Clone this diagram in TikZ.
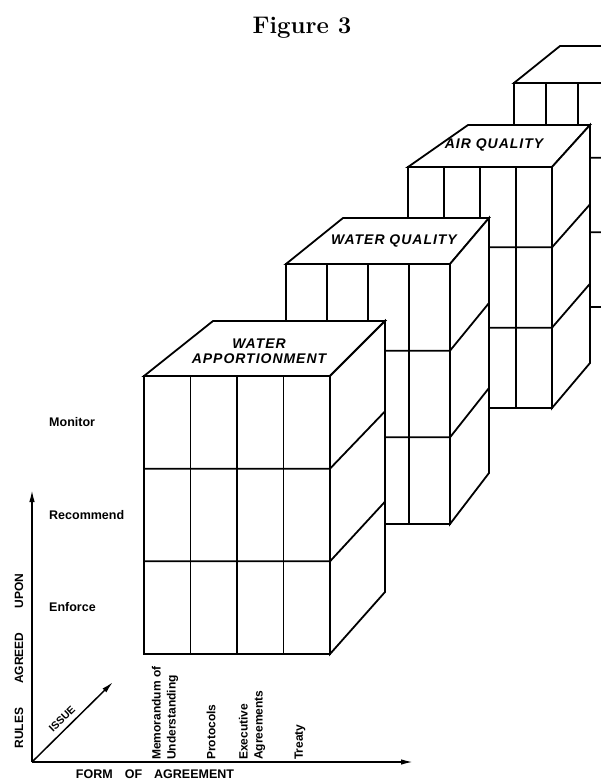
\documentclass[tikz,border=0pt]{standalone}
\usepackage{fontspec}
\setsansfont{Liberation Sans}
\usetikzlibrary{arrows.meta}

% one block: front corner (x,y), width, height, back corner (x,y), back width, back height
\newcommand{\agreecube}[8]{%
  \filldraw[cubeline, fill=white] (#1,#2) -- (#5,#6) -- (#5+#7,#6) -- (#1+#3,#2) -- cycle;
  \filldraw[cubeline, fill=white] (#1+#3,#2) -- (#5+#7,#6) -- (#5+#7,#6+#8) -- (#1+#3,#2+#4) -- cycle;
  \filldraw[cubeline, fill=white] (#1,#2) rectangle (#1+#3,#2+#4);
  \foreach \k in {1,2,3}
    \draw[cubeline] (#1+\k*#3/4,#2) -- (#1+\k*#3/4,#2+#4);
  \foreach \k in {1,2}
    \draw[cubeline] (#1,#2+\k*#4/3) -- (#1+#3,#2+\k*#4/3) -- (#5+#7,#6+\k*#8/3);
}

\begin{document}
\begin{tikzpicture}[x=1pt, y=-1pt,
  cubeline/.style={line width=1.8pt},
  axisline/.style={line width=1.5pt, -{Latex[length=12pt, width=5.5pt]}},
  rowlabel/.style={font=\sffamily\bfseries\fontsize{12.5}{15}\selectfont, anchor=west, inner sep=0pt},
  formlabel/.style={font=\sffamily\bfseries\fontsize{12}{15}\selectfont, rotate=90, anchor=west, align=left, inner sep=0pt},
  toplabel/.style={font=\sffamily\bfseries\itshape\fontsize{14}{15}\selectfont\addfontfeature{LetterSpace=7}, align=center, inner sep=0pt}]
  \useasboundingbox (0,0) rectangle (601,783);

  % Title
  \node[font=\bfseries\fontsize{24}{28}\selectfont] (title) at (302,28) {Figure 3};

  % Blocks, back to front
  \begin{scope}
    \clip (0,0) rectangle (601,783);
    \agreecube{514}{83}{128}{224}{560}{46}{110}{218}
    \agreecube{408}{167}{144}{241}{468}{125}{122}{238}
    \agreecube{286}{264}{164}{260}{343}{218}{146}{255}
    \agreecube{144}{376}{186}{278}{213}{321}{172}{271}
  \end{scope}

  % Issue names on the tops
  \node[toplabel] (airq) at (494,145) {AIR QUALITY};
  \node[toplabel] (waterq) at (394,241) {WATER QUALITY};
  \node[toplabel] (waterapp) at (259,351) {WATER\\APPORTIONMENT};

  % Rules agreed upon
  \node[rowlabel] (monitor) at (49,422) {Monitor};
  \node[rowlabel] (recommend) at (49,515) {Recommend};
  \node[rowlabel] (enforce) at (49,607) {Enforce};

  % Forms of agreement
  \node[formlabel] (mou) at (165,760) {Memorandum of\\Understanding};
  \node[formlabel] (protocols) at (211,760) {Protocols};
  \node[formlabel] (execagr) at (252,760) {Executive\\Agreements};
  \node[formlabel] (treaty) at (300,760) {Treaty};

  % Axes
  \coordinate (origin) at (32,762);
  \coordinate (rulesend) at (32,490);
  \coordinate (formend) at (413,762);
  \coordinate (issueend) at (113,682);
  \draw[axisline] (origin) -- (rulesend);
  \draw[axisline] (origin) -- (formend);
  \draw[axisline] (origin) -- (issueend);
  \node[rotate=90, font=\sffamily\bfseries\fontsize{12}{14}\selectfont] (rules) at (19,661) {RULES\hspace{24pt}AGREED\hspace{24pt}UPON};
  \node[font=\sffamily\bfseries\fontsize{12.5}{14}\selectfont] (form) at (155,774) {FORM\hspace{12pt}OF\hspace{12pt}AGREEMENT};
  \node[rotate=44, font=\sffamily\bfseries\fontsize{10.5}{12}\selectfont] (issue) at (62,719) {ISSUE};
\end{tikzpicture}
\end{document}
